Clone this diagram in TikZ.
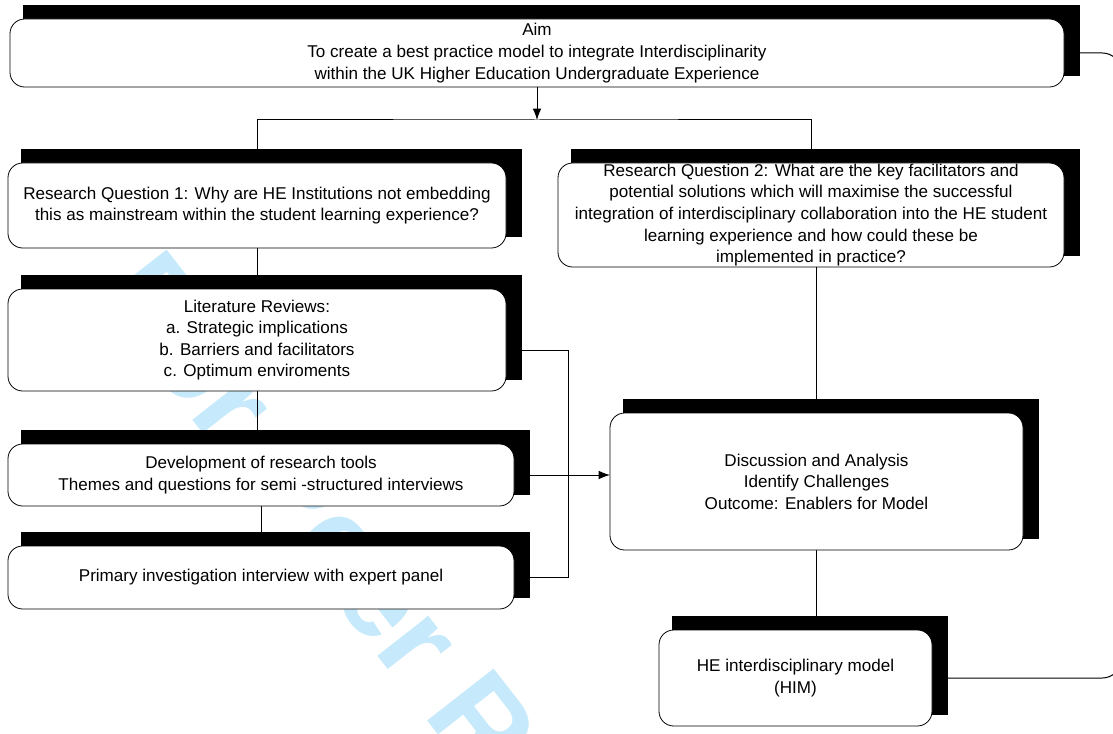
\documentclass[tikz,border=0pt]{standalone}
\usepackage{fontspec}
\setmainfont{Liberation Sans}
\usetikzlibrary{arrows.meta}
\pgfdeclarelayer{wm}
\pgfdeclarelayer{bg}
\pgfsetlayers{wm,bg,main}
\definecolor{wmcyan}{RGB}{198,234,251}
\tikzset{
  box/.style={draw=black, fill=white, rounded corners=11pt, inner sep=0pt, outer sep=0pt,
    align=center, font=\fontsize{12.8}{16.2}\selectfont, line width=0.6pt},
  conn/.style={draw=black, line width=0.75pt},
  arr/.style={conn, -{Latex[length=8.5pt,width=6.5pt]}}
}
\newcommand{\mkbox}[6]{%
  \fill[black] ({#2+13},{#3-14}) rectangle ({#4+16},{#5-11});
  \node[box, minimum width={(#4-#2)*0.75pt}, minimum height={(#5-#3)*0.75pt}]
    (#1) at ({(#2+#4)/2},{(#3+#5)/2}) {#6};
}
\begin{document}
\begin{tikzpicture}[x=0.75pt,y=-0.75pt]
\useasboundingbox (0,0) rectangle (1113,734);
\begin{pgfonlayer}{wm}
  \fill[white] (0,0) rectangle (1113,734);
  \node[text=wmcyan, font=\fontsize{92}{92}\bfseries\selectfont, rotate=-52,
    anchor=base west, inner sep=0pt] (wmark) at (95,295) {For Peer Review};
\end{pgfonlayer}

\mkbox{aim}{10}{19}{1064}{87}{Aim\\To create a best practice model to integrate Interdisciplinarity\\within the UK Higher Education Undergraduate Experience}
\mkbox{rq1}{8}{163}{506}{248}{Research Question 1: Why are HE Institutions not embedding\\this as mainstream within the student learning experience?}
\mkbox{rq2}{558}{163}{1064}{267}{Research Question 2: What are the key facilitators and\\potential solutions which will maximise the successful\\integration of interdisciplinary collaboration into the HE student\\learning experience and how could these be\\implemented in practice?}
\mkbox{lit}{8}{289}{506}{391}{Literature Reviews:\\a. Strategic implications\\b. Barriers and facilitators\\c. Optimum enviroments}
\mkbox{dev}{8}{444}{514}{506}{Development of research tools\\Themes and questions for semi -structured interviews}
\mkbox{prim}{8}{546}{514}{609}{Primary investigation interview with expert panel}
\mkbox{disc}{610}{413}{1023}{550}{Discussion and Analysis\\Identify Challenges\\Outcome: Enablers for Model}
\mkbox{him}{659}{630}{932}{726}{HE interdisciplinary model\\(HIM)}

\begin{pgfonlayer}{bg}
  \coordinate (split) at (537,120);
  \coordinate (jt) at (568,350);
  \coordinate (lp) at (1121,0);
  \draw[arr] (aim.south) -- (split);
  \draw[conn] (rq1.north) |- (split) -| (rq2.north);
  \draw[conn] (rq1.south) -- (rq1.south |- lit.north);
  \draw[conn] (lit.south) -- (lit.south |- dev.north);
  \draw[conn] (dev.south) -- (dev.south |- prim.north);
  \draw[conn] (lit.east |- jt) -- (jt) -- (jt |- prim.east) -- (prim.east);
  \draw[arr] (dev.east) -- (dev.east -| disc.west);
  \draw[conn] (disc.north |- rq2.south) -- (disc.north);
  \draw[conn] (disc.south) -- (disc.south |- him.north);
  \draw[conn, rounded corners=14pt] (him.east) -- (lp |- him.east) -- (lp |- aim.east) -- (aim.east);
\end{pgfonlayer}
\end{tikzpicture}
\end{document}
